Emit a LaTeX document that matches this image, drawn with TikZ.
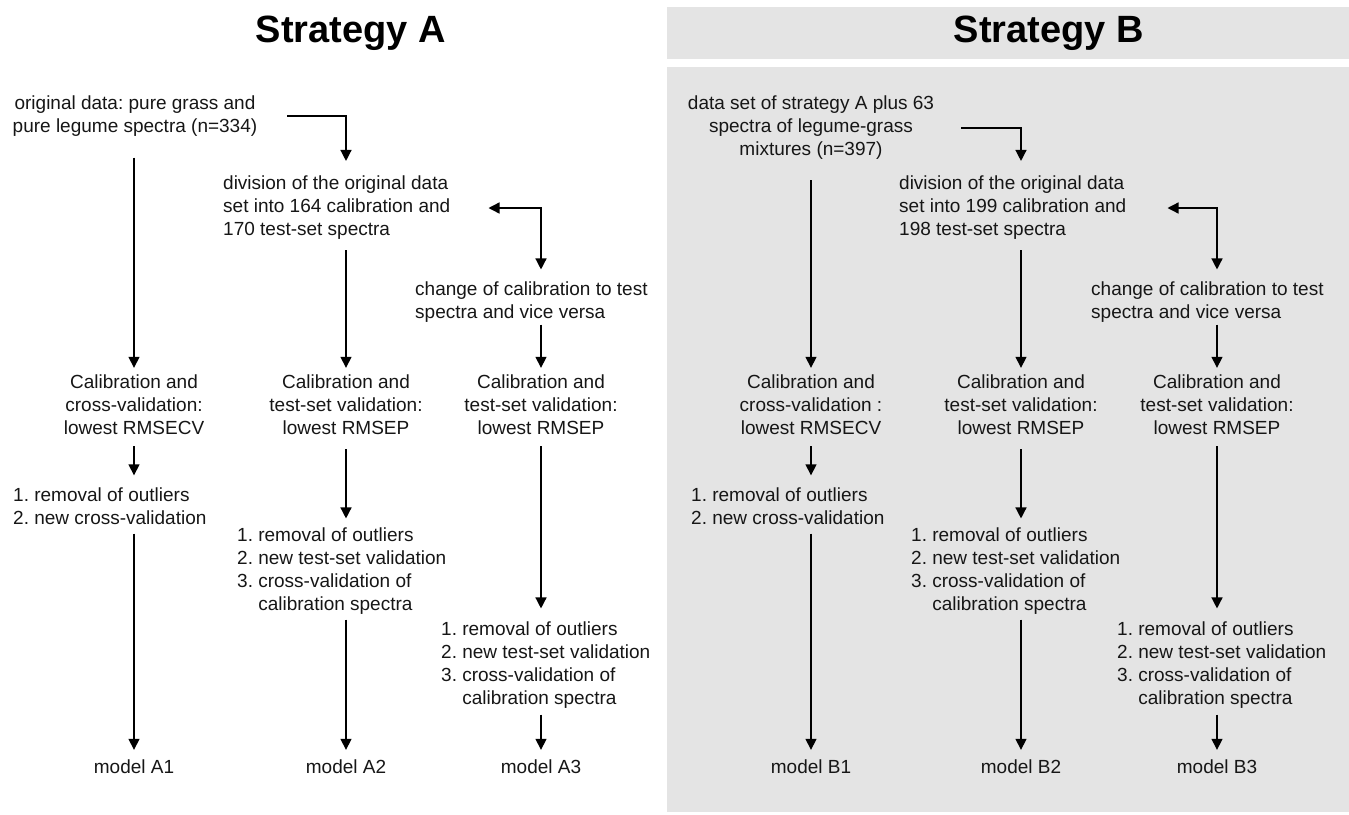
\documentclass[tikz,border=0pt]{standalone}
\usepackage{fontspec}
\setmainfont{Liberation Sans}
\usetikzlibrary{arrows.meta}
\definecolor{panelgray}{RGB}{228,228,228}
\definecolor{inkgray}{RGB}{22,22,22}
\frenchspacing

\begin{document}
\begin{tikzpicture}[x=1pt, y=-1pt,
	every node/.style={font=\fontsize{19}{23}\selectfont, inner sep=0pt, text=inkgray},
	title/.style={font=\bfseries\fontsize{38}{40}\selectfont, anchor=base, text=black},
	stage/.style={align=center},
	items/.style={align=left, anchor=west},
	flow/.style={-{Triangle[length=11pt,width=11pt]}, line width=1.4pt},
	swap/.style={{Triangle[length=11pt,width=11pt]}-{Triangle[length=11pt,width=11pt]}, line width=1.4pt}]
	\useasboundingbox (0,0) rectangle (1349,814);
	% shaded panel of strategy B
	\fill[panelgray] (667,7) rectangle (1349,59);
	\fill[panelgray] (667,67) rectangle (1349,812);

	\node[title] (titA) at (351,42) {Strategy A};
	\node[title] (titB) at (1049,42) {Strategy B};

	% strategy A
	\node[stage] (origA) at (135,116) {original data: pure grass and\\pure legume spectra (n=334)};
	\node[items] (divA) at (223,208) {division of the original data\\set into 164 calibration and\\170 test-set spectra};
	\node[items] (chgA) at (415,302) {change of calibration to test\\spectra and vice versa};
	\node[stage] (calA1) at (134,405) {Calibration and\\cross-validation:\\lowest RMSECV};
	\node[stage] (calA2) at (346,405) {Calibration and\\test-set validation:\\lowest RMSEP};
	\node[stage] (calA3) at (541,405) {Calibration and\\test-set validation:\\lowest RMSEP};
	\node[items] (listA1) at (13,506) {1. removal of outliers\\2. new cross-validation};
	\node[items] (listA2) at (237,571) {1. removal of outliers\\2. new test-set validation\\3. cross-validation of\\\hphantom{3.~}calibration spectra};
	\node[items] (listA3) at (441,665) {1. removal of outliers\\2. new test-set validation\\3. cross-validation of\\\hphantom{3.~}calibration spectra};
	\node (modA1) at (134,767) {model A1};
	\node (modA2) at (346,767) {model A2};
	\node (modA3) at (541,767) {model A3};

	\draw[flow, shorten <=21pt, shorten >=7pt] (origA.south -| calA1) -- (calA1.north);
	\draw[flow, shorten >=15pt] ([xshift=30pt]origA.east) -| (divA.north -| calA2);
	\draw[swap, shorten <=38pt, shorten >=12pt] (divA.east) -| (chgA.north -| calA3);
	\draw[flow, shorten <=10pt, shorten >=7pt] (divA.south -| calA2) -- (calA2.north);
	\draw[flow, shorten <=2pt, shorten >=7pt] (chgA.south -| calA3) -- (calA3.north);
	\draw[flow, shorten <=11pt, shorten >=12pt] (calA1.south) -- (listA1.north -| calA1);
	\draw[flow, shorten <=9pt, shorten >=10pt] (listA1.south -| calA1) -- (modA1.north);
	\draw[flow, shorten <=14pt, shorten >=9pt] (calA2.south) -- (listA2.north -| calA2);
	\draw[flow, shorten <=5pt, shorten >=10pt] (listA2.south -| calA2) -- (modA2.north);
	\draw[flow, shorten <=11pt, shorten >=13pt] (calA3.south) -- (listA3.north -| calA3);
	\draw[flow, shorten <=6pt, shorten >=10pt] (listA3.south -| calA3) -- (modA3.north);

	% strategy B
	\node[stage] (origB) at (811,128) {data set of strategy A plus 63\\spectra of legume-grass\\mixtures (n=397)};
	\node[items] (divB) at (899,208) {division of the original data\\set into 199 calibration and\\198 test-set spectra};
	\node[items] (chgB) at (1091,302) {change of calibration to test\\spectra and vice versa};
	\node[stage] (calB1) at (811,405) {Calibration and\\cross-validation :\\lowest RMSECV};
	\node[stage] (calB2) at (1021,405) {Calibration and\\test-set validation:\\lowest RMSEP};
	\node[stage] (calB3) at (1217,405) {Calibration and\\test-set validation:\\lowest RMSEP};
	\node[items] (listB1) at (691,506) {1. removal of outliers\\2. new cross-validation};
	\node[items] (listB2) at (911,571) {1. removal of outliers\\2. new test-set validation\\3. cross-validation of\\\hphantom{3.~}calibration spectra};
	\node[items] (listB3) at (1117,665) {1. removal of outliers\\2. new test-set validation\\3. cross-validation of\\\hphantom{3.~}calibration spectra};
	\node (modB1) at (811,767) {model B1};
	\node (modB2) at (1021,767) {model B2};
	\node (modB3) at (1217,767) {model B3};

	\draw[flow, shorten <=20pt, shorten >=7pt] (origB.south -| calB1) -- (calB1.north);
	\draw[flow, shorten >=15pt] ([xshift=27pt]origB.east) -| (divB.north -| calB2);
	\draw[swap, shorten <=41pt, shorten >=12pt] (divB.east) -| (chgB.north -| calB3);
	\draw[flow, shorten <=10pt, shorten >=7pt] (divB.south -| calB2) -- (calB2.north);
	\draw[flow, shorten <=2pt, shorten >=7pt] (chgB.south -| calB3) -- (calB3.north);
	\draw[flow, shorten <=11pt, shorten >=12pt] (calB1.south) -- (listB1.north -| calB1);
	\draw[flow, shorten <=9pt, shorten >=10pt] (listB1.south -| calB1) -- (modB1.north);
	\draw[flow, shorten <=14pt, shorten >=9pt] (calB2.south) -- (listB2.north -| calB2);
	\draw[flow, shorten <=5pt, shorten >=10pt] (listB2.south -| calB2) -- (modB2.north);
	\draw[flow, shorten <=11pt, shorten >=13pt] (calB3.south) -- (listB3.north -| calB3);
	\draw[flow, shorten <=6pt, shorten >=10pt] (listB3.south -| calB3) -- (modB3.north);
\end{tikzpicture}
\end{document}
